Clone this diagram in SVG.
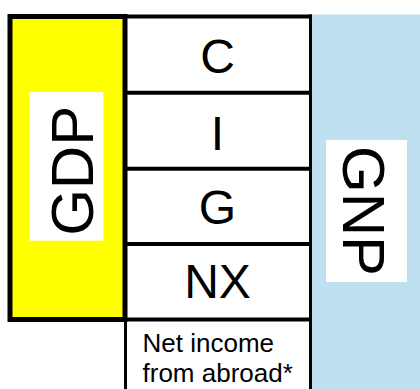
<svg xmlns="http://www.w3.org/2000/svg" width="420" height="389" viewBox="0 0 420 389">
  <style>
    .big { font-family: "Liberation Sans", Arial, sans-serif; font-size: 48px; fill: #000; text-anchor: middle; }
    .side { font-family: "Liberation Sans", Arial, sans-serif; font-size: 60px; fill: #000; text-anchor: middle; }
    .small { font-family: "Liberation Sans", Arial, sans-serif; font-size: 26px; fill: #000; }
    .rule { stroke: #000; stroke-width: 4; fill: none; }
    .edge { stroke: #000; stroke-width: 3; fill: none; }
    .label-bg { fill: #fff; }
  </style>
  <rect width="420" height="389" fill="#fff"/>

  <!-- GNP column (light blue, runs off the right and bottom edges) -->
  <g id="gnp">
    <rect x="310" y="14.5" width="110" height="374.5" fill="#BEE0F0"/>
    <rect class="label-bg" x="326" y="140" width="81" height="142"/>
    <text class="side" transform="translate(342.7,211) rotate(90)">GNP</text>
  </g>

  <!-- GDP column (yellow, heavy outline) -->
  <g id="gdp">
    <rect x="10" y="16.5" width="115" height="303" fill="#FFFF00" stroke="#000" stroke-width="5"/>
    <rect class="label-bg" x="29.3" y="92" width="74" height="148.7"/>
    <text class="side" transform="translate(93,170.8) rotate(-90)">GDP</text>
  </g>

  <!-- Expenditure components stacked between the two columns -->
  <g id="component-c">
    <text class="big" x="217.5" y="72.5">C</text>
  </g>
  <g id="component-i">
    <text class="big" x="217.5" y="150">I</text>
  </g>
  <g id="component-g">
    <text class="big" x="217.5" y="223.5">G</text>
  </g>
  <g id="component-nx">
    <text class="big" x="217.5" y="298">NX</text>
  </g>
  <g id="net-income">
    <text class="small" x="142.5" y="351.5">Net income</text>
    <text class="small" x="142.5" y="381.7">from abroad*</text>
  </g>

  <!-- Cell borders of the middle column -->
  <g id="connectors">
    <line class="rule" x1="123" y1="16.5" x2="312" y2="16.5"/>
    <line class="rule" x1="123" y1="92.8" x2="312" y2="92.8"/>
    <line class="rule" x1="123" y1="168.7" x2="312" y2="168.7"/>
    <line class="rule" x1="123" y1="244" x2="312" y2="244"/>
    <line class="rule" x1="123" y1="319.5" x2="312" y2="319.5"/>
    <line class="edge" x1="310.5" y1="14.5" x2="310.5" y2="389"/>
    <line class="edge" x1="125.5" y1="319" x2="125.5" y2="389"/>
  </g>
</svg>
